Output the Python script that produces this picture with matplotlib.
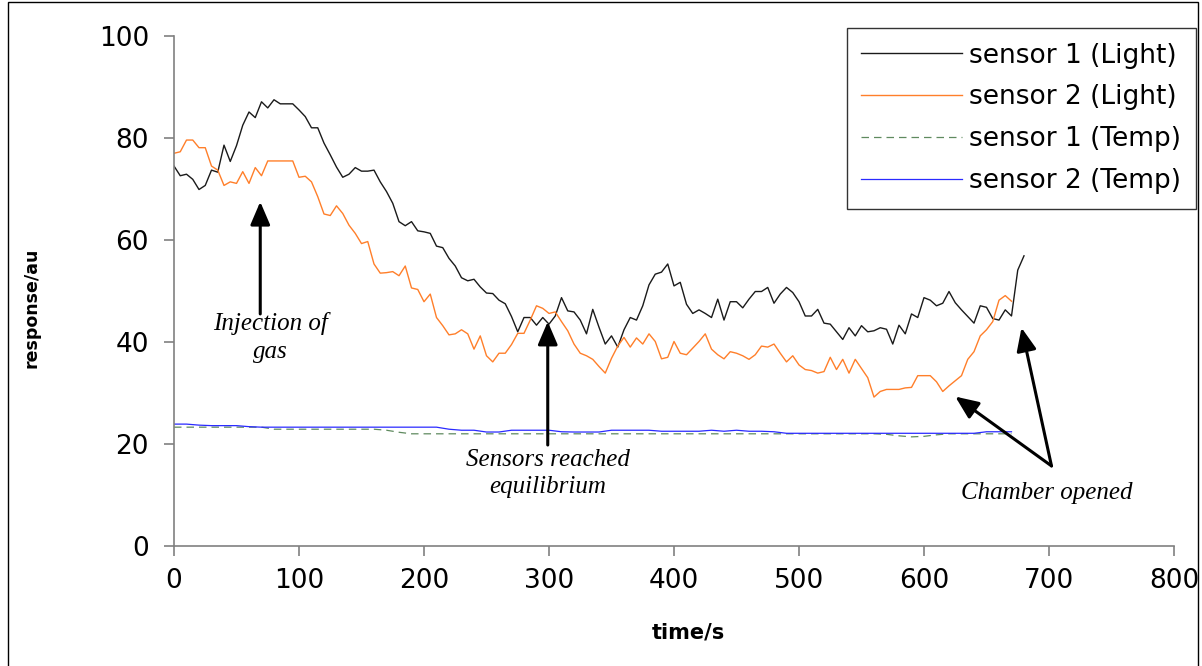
import matplotlib
matplotlib.use('Agg')
import matplotlib.pyplot as plt
from matplotlib.patches import Rectangle
import numpy as np

# light sensors, sampled every 5 s
t_light = np.arange(0, 685, 5)
s1_light = [74.5, 72.6, 72.9, 71.9, 69.9, 70.7, 73.7, 73.3, 78.6, 75.4,
            78.5, 82.5, 85.1, 84.0, 87.1, 85.9, 87.5, 86.7, 86.7, 86.7,
            85.5, 84.2, 82.0, 82.0, 79.0, 76.7, 74.3, 72.3, 72.9, 74.2,
            73.5, 73.5, 73.7, 71.4, 69.5, 67.2, 63.6, 62.8, 63.6, 61.8,
            61.6, 61.3, 58.8, 58.5, 56.4, 54.9, 52.6, 52.0, 52.3, 50.8,
            49.6, 49.5, 48.2, 47.5, 45.0, 42.0, 44.8, 44.8, 43.3, 44.8,
            43.5, 45.1, 48.7, 46.1, 45.9, 44.3, 41.6, 46.4, 42.9, 39.6,
            41.2, 39.0, 42.4, 44.8, 44.3, 47.1, 51.2, 53.3, 53.7, 55.3,
            51.0, 51.7, 47.4, 45.6, 46.3, 45.6, 44.8, 48.4, 44.3, 47.9,
            47.9, 46.7, 48.4, 49.9, 49.9, 50.7, 47.6, 49.4, 50.7, 49.7,
            47.9, 45.1, 45.1, 46.4, 43.7, 43.5, 42.0, 40.5, 42.8, 41.2,
            43.2, 42.0, 42.2, 42.8, 42.5, 39.6, 43.3, 41.6, 45.5, 44.8,
            48.7, 48.2, 47.1, 47.6, 49.9, 47.7, 46.3, 45.0, 43.7, 47.1,
            46.8, 44.6, 44.3, 46.3, 45.1, 54.1, 56.9]
s2_light = [77.0, 77.3, 79.6, 79.6, 78.1, 78.1, 74.5, 73.7, 70.7, 71.4,
            71.1, 73.4, 71.1, 74.2, 72.6, 75.5, 75.5, 75.5, 75.5, 75.5,
            72.3, 72.5, 71.4, 68.5, 65.1, 64.8, 66.7, 65.2, 62.9, 61.3,
            59.3, 59.7, 55.3, 53.5, 53.6, 53.8, 53.0, 54.9, 50.6, 50.3,
            47.9, 49.4, 44.8, 43.2, 41.4, 41.6, 42.4, 41.6, 38.6, 41.2,
            37.3, 36.1, 37.8, 37.8, 39.5, 41.7, 41.7, 44.3, 47.1, 46.6,
            45.6, 45.9, 44.0, 42.2, 39.6, 37.8, 37.3, 36.6, 35.2, 33.9,
            36.8, 39.2, 40.9, 39.0, 40.8, 39.6, 41.6, 40.1, 36.7, 37.0,
            40.1, 37.8, 37.5, 38.8, 40.1, 41.6, 38.6, 37.5, 36.7, 38.1,
            37.8, 37.3, 36.6, 37.5, 39.2, 39.0, 39.6, 37.8, 36.1, 37.3,
            35.5, 34.6, 34.4, 33.9, 34.2, 37.0, 34.6, 36.6, 33.9, 36.6,
            34.8, 33.0, 29.2, 30.3, 30.7, 30.7, 30.7, 31.0, 31.1, 33.4,
            33.4, 33.4, 32.2, 30.3, 31.4, 32.4, 33.4, 36.6, 38.1, 41.2,
            42.4, 44.0, 48.2, 49.1, 48.0]

# temperature sensors, sampled every 10 s
t_temp = np.arange(0, 680, 10)
s1_temp = [23.3, 23.3, 23.3, 23.3, 23.3, 23.3, 23.3, 23.3, 22.9, 22.9,
           22.9, 22.9, 22.9, 22.9, 22.9, 22.9, 22.9, 22.7, 22.3, 22.0,
           22.0, 22.0, 22.0, 22.0, 22.0, 22.0, 22.0, 22.0, 22.0, 22.0,
           22.0, 22.0, 22.0, 22.0, 22.0, 22.0, 22.0, 22.0, 22.0, 22.0,
           22.0, 22.0, 22.0, 22.0, 22.0, 22.0, 22.0, 22.0, 22.0, 22.0,
           22.0, 22.0, 22.0, 22.0, 22.0, 22.0, 22.0, 21.9, 21.6, 21.4,
           21.5, 21.8, 22.0, 22.0, 22.0, 22.0, 22.0, 22.0]
s2_temp = [23.9, 23.9, 23.7, 23.6, 23.6, 23.6, 23.4, 23.3, 23.3, 23.3,
           23.3, 23.3, 23.3, 23.3, 23.3, 23.3, 23.3, 23.3, 23.3, 23.3,
           23.3, 23.3, 22.9, 22.7, 22.7, 22.35, 22.35, 22.7, 22.7, 22.7,
           22.7, 22.4, 22.35, 22.35, 22.35, 22.7, 22.7, 22.7, 22.7, 22.5,
           22.5, 22.5, 22.5, 22.7, 22.5, 22.7, 22.5, 22.5, 22.4, 22.1,
           22.1, 22.1, 22.1, 22.1, 22.1, 22.1, 22.1, 22.1, 22.1, 22.1,
           22.1, 22.1, 22.1, 22.1, 22.1, 22.4, 22.4, 22.4]

labels = ['sensor 1 (Light)', 'sensor 2 (Light)', 'sensor 1 (Temp)', 'sensor 2 (Temp)']

plt.rcParams['font.family'] = ['DejaVu Sans']

fig = plt.figure(figsize=(12.02, 6.66), dpi=100)
ax = fig.add_axes([174/1202, 1 - 546/666, 1000/1202, 510/666])

ax.plot(t_light, s1_light, color='#1a1a1a', lw=1.0, label=labels[0])
ax.plot(t_light[:len(s2_light)], s2_light, color='#ff7f2a', lw=1.0, label=labels[1])
ax.plot(t_temp, s1_temp, color='#5f8a5f', lw=0.9, dashes=(6, 4), label=labels[2])
ax.plot(t_temp, s2_temp, color='#2a2aff', lw=0.9, label=labels[3])

ax.set_xlim(0, 800)
ax.set_ylim(0, 100)
ax.set_xticks(range(0, 801, 100))
ax.set_yticks(range(0, 101, 20))
for s in ['top', 'right']:
    ax.spines[s].set_visible(False)
for s in ['left', 'bottom']:
    ax.spines[s].set_color('#808080')
    ax.spines[s].set_linewidth(1.2)
ax.tick_params(labelsize=19, color='#808080', direction='out', length=7, width=1.2)
ax.tick_params(axis='y', pad=11)
ax.tick_params(axis='x', pad=9)

ax.set_xlabel('time/s', fontsize=15, fontweight='bold', va='center')
ax.xaxis.set_label_coords(0.514, -0.169)
ax.set_ylabel('response/au', fontsize=12.5, fontweight='bold', va='center')
ax.yaxis.set_label_coords(-0.143, 0.467)

leg = ax.legend(loc='upper right', bbox_to_anchor=(1196/1202, 1 - 28/666),
                bbox_transform=fig.transFigure, fontsize=19, frameon=True,
                fancybox=False, edgecolor='black', handlelength=3.8,
                handletextpad=0.3, labelspacing=0.6, borderpad=0.55,
                borderaxespad=0)
leg.get_frame().set_linewidth(1.0)

# annotations
arrow = dict(arrowstyle='-|>,head_length=0.7,head_width=0.3', lw=2.2,
             color='black', shrinkA=0, shrinkB=0, mutation_scale=20)
note = dict(fontsize=18, style='italic', family=['Liberation Serif', 'DejaVu Serif'],
            ha='center', va='top', linespacing=1.3)

ax.annotate('', xy=(69, 67.5), xytext=(69, 45.5), arrowprops=arrow)
ax.text(77, 45.8, 'Injection of\ngas', **note)

ax.annotate('', xy=(299, 44.0), xytext=(299, 19.8), arrowprops=arrow)
ax.text(299, 19.0, 'Sensors reached\nequilibrium', **note)

ax.annotate('', xy=(625, 29.3), xytext=(702, 15.7), arrowprops=arrow)
ax.annotate('', xy=(678, 42.8), xytext=(702, 15.7), arrowprops=arrow)
ax.text(698, 12.6, 'Chamber opened', **note)

# outer frame of the chart area
fig.patches.append(Rectangle((8/1202, -0.01), 1190/1202, 1 - 2/666 + 0.01,
                             transform=fig.transFigure, fill=False,
                             edgecolor='black', lw=1.0))

fig.savefig('out.png', dpi=100)
